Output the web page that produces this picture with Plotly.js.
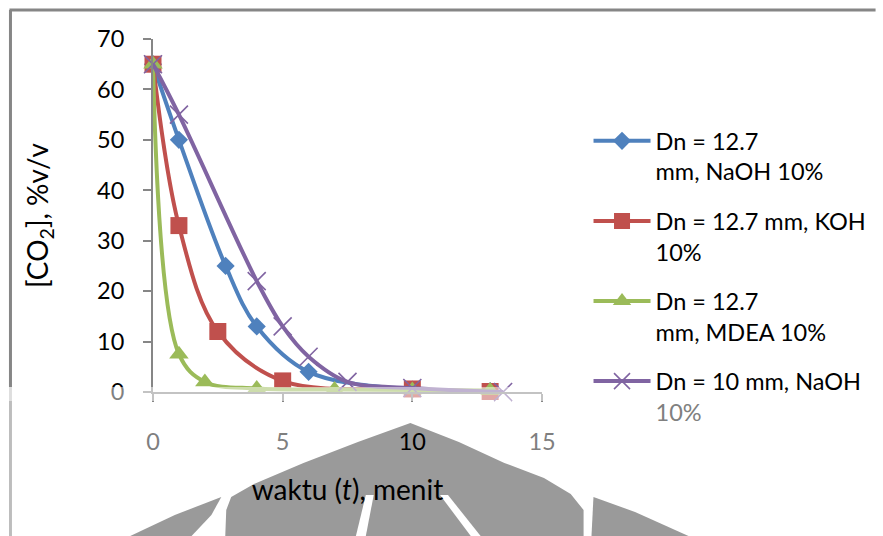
<!DOCTYPE html>
<html>
<head>
<meta charset="utf-8">
<script src="https://cdn.plot.ly/plotly-3.0.1.min.js"></script>
<style>
  html, body { margin: 0; padding: 0; background: #ffffff; }
  #chart { width: 883px; height: 536px; }
</style>
</head>
<body>
<div id="chart"></div>
<script>
// CO2 concentration (%v/v) against time (minutes) for each absorbent run
const tNaOH127 = [0, 1, 2.8, 4, 6, 10, 13];
const co2NaOH127 = [65, 50, 25, 13, 4, 0.5, 0.2];

const tKOH127 = [0, 1, 2.5, 5, 10, 13];
const co2KOH127 = [65, 33, 12, 2.2, 0.6, 0.1];

const tMDEA127 = [0, 1, 2, 4, 7, 10, 13];
const co2MDEA127 = [65, 7.5, 2, 0.7, 0.5, 0.4, 0.3];

const tNaOH10 = [0, 1, 4, 5, 6, 7.5, 10, 13.5];
const co2NaOH10 = [65, 55, 22, 13, 7, 2, 0.8, 0];

const seriesNames = [
  'Dn = 12.7<br>mm, NaOH 10%',
  'Dn = 12.7 mm, KOH<br>10%',
  'Dn = 12.7<br>mm, MDEA 10%',
  'Dn = 10 mm, NaOH<br><span style="color:#808080">10%</span>'
];

const xTickVals = [0, 5, 10, 15];
const xTickText = [
  '<span style="color:#7f7f7f">0</span>',
  '<span style="color:#7f7f7f">5</span>',
  '10',
  '<span style="color:#7f7f7f">15</span>'
];
const yTickVals = [0, 10, 20, 30, 40, 50, 60, 70];

const FONT = 'Lato, Carlito, "Liberation Sans", sans-serif';

// plot-area geometry in pixels, used to place the frame and background emblem
const PL = 153, PR = 546, PT = 39, PB = 392;
function px(x) { return ((x - PL) / (PR - PL)).toFixed(4); }
function py(y) { return ((PB - y) / (PB - PT)).toFixed(4); }
function poly(pts) {
  return 'M' + pts.map(p => px(p[0]) + ',' + py(p[1])).join('L') + 'Z';
}
function pathShape(pts, color, layer, opacity) {
  return {
    type: 'path', xref: 'paper', yref: 'paper', layer: layer,
    path: poly(pts), fillcolor: color, opacity: opacity,
    line: { width: 0 }
  };
}
function lineShape(x0, y0, x1, y1, color, w) {
  return {
    type: 'line', xref: 'paper', yref: 'paper', layer: 'below',
    x0: px(x0), y0: py(y0), x1: px(x1), y1: py(y1),
    line: { color: color, width: w }
  };
}

function series(x, y, name, color, symbol, size, group) {
  const isX = symbol === 'x-thin';
  return {
    type: 'scatter', mode: 'lines+markers', x: x, y: y, name: name,
    legendgroup: group, cliponaxis: false,
    line: { color: color, width: 4, shape: 'spline', smoothing: 1 },
    marker: {
      symbol: symbol, size: size, color: color,
      line: { color: color, width: isX ? 1.6 : 0 }
    }
  };
}

const traces = [
  series(tNaOH127, co2NaOH127, seriesNames[0], '#4F81BD', 'diamond', 14, 'a'),
  series(tKOH127, co2KOH127, seriesNames[1], '#C0504D', 'square', 17, 'b'),
  series(tMDEA127, co2MDEA127, seriesNames[2], '#9BBB59', 'triangle-up', 17, 'c'),
  series(tNaOH10, co2NaOH10, seriesNames[3], '#8064A2', 'x-thin', 18, 'd')
];

const emblem = '#9a9a9a';
const shapes = [
  // chart frame
  lineShape(8, 10, 883, 10, '#868686', 3),
  lineShape(9, 10, 9, 387, '#868686', 3),
  lineShape(9, 387, 9, 536, '#bdbdbd', 3),
  // background emblem
  pathShape([[413,423],[360,442],[305,463],[255,484],[232,497],[227,510],[226,536],
             [588,536],[588,510],[575,494],[548,478],[508,463],[462,442]], emblem, 'below', 1),
  pathShape([[222,497],[175,515],[130,536],[192,536],[212,515]], emblem, 'below', 1),
  pathShape([[598,497],[640,512],[694,536],[596,536]], emblem, 'below', 1),
  pathShape([[368,495],[376,495],[368,536],[358,536]], '#ffffff', 'below', 1),
  pathShape([[443,495],[451,495],[484,536],[474,536]], '#ffffff', 'below', 1),
  // pale band along the baseline
  pathShape([[0,387],[883,387],[883,401],[0,401]], '#ffffff', 'above', 0.5)
];

const layout = {
  width: 883, height: 536,
  margin: { l: PL, r: 883 - PR, t: PT, b: 536 - PB, pad: 0 },
  paper_bgcolor: '#ffffff',
  plot_bgcolor: 'rgba(0,0,0,0)',
  font: { family: FONT, size: 23.5, color: '#000000' },
  showlegend: true,
  xaxis: {
    range: [0, 15], tickvals: xTickVals, ticktext: xTickText,
    showgrid: false, zeroline: false,
    showline: true, linecolor: '#868686', linewidth: 2,
    ticks: 'outside', ticklen: 8, tickwidth: 2, tickcolor: '#868686',
    ticklabelstandoff: 20,
    tickfont: { family: FONT, size: 23.5, color: '#000000' },
    title: { text: 'waktu (<i>t</i>), menit', font: { family: FONT, size: 28, color: '#000000' }, standoff: 26 }
  },
  yaxis: {
    range: [0, 70], tickvals: yTickVals,
    showgrid: false, zeroline: false,
    showline: true, linecolor: '#868686', linewidth: 2,
    ticks: 'outside', ticklen: 8, tickwidth: 2, tickcolor: '#868686',
    ticklabelstandoff: 14,
    tickfont: { family: FONT, size: 23.5, color: '#000000' },
    title: { text: '[CO<sub>2</sub>], %v/v', font: { family: FONT, size: 28, color: '#000000' }, standoff: 40 }
  },
  legend: {
    x: (593 - PL) / (PR - PL), xanchor: 'left',
    y: (PB - 119) / (PB - PT), yanchor: 'top',
    bgcolor: 'rgba(0,0,0,0)', borderwidth: 0,
    font: { family: FONT, size: 23.5, color: '#000000' },
    valign: 'top', itemwidth: 57, tracegroupgap: 16,
    traceorder: 'grouped'
  },
  shapes: shapes
};

Plotly.newPlot('chart', traces, layout, { displayModeBar: false, staticPlot: true });
</script>
</body>
</html>
